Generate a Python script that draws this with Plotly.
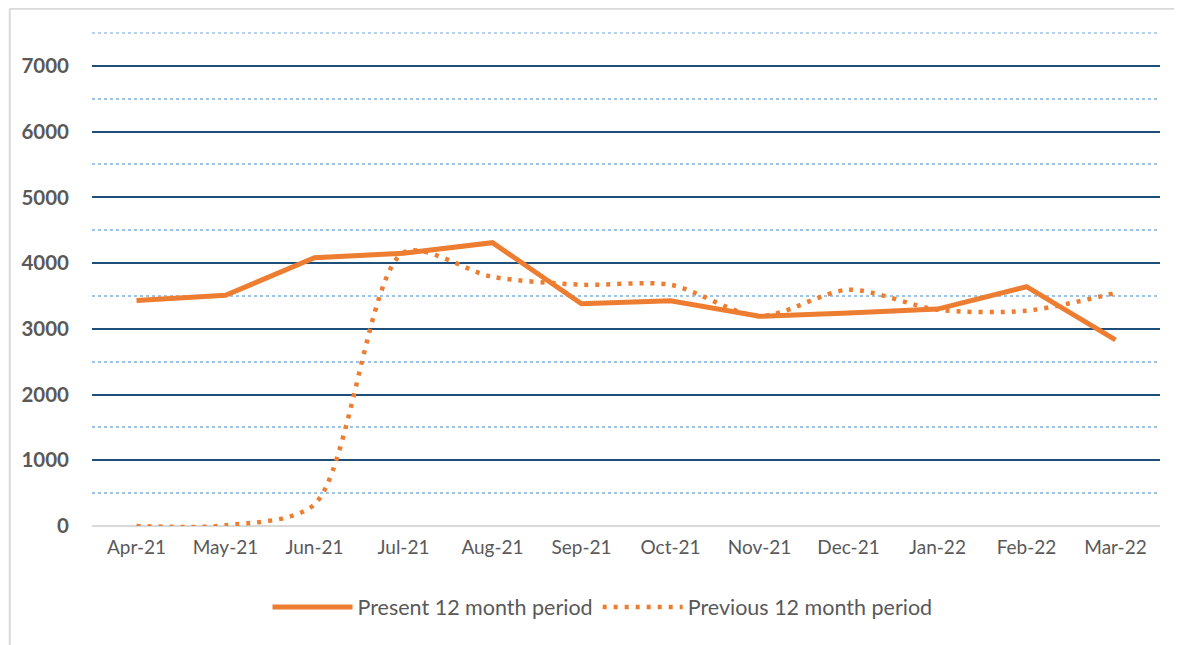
import plotly.graph_objects as go

months = ["Apr-21", "May-21", "Jun-21", "Jul-21", "Aug-21", "Sep-21",
          "Oct-21", "Nov-21", "Dec-21", "Jan-22", "Feb-22", "Mar-22"]
present = [3430, 3510, 4080, 4150, 4310, 3380, 3425, 3190, 3240, 3300, 3640, 2830]
previous = [0, 10, 330, 4160, 3790, 3670, 3670, 3190, 3595, 3290, 3275, 3545]
y_top = 7500

ORANGE = "#ED7D31"
GREY = "#595959"
MINOR = "#9DC3E6"

fig = go.Figure()

fig.add_trace(go.Scatter(
    x=months,
    y=present,
    mode="lines",
    name="Present 12 month period",
    line=dict(color=ORANGE, width=5)
))

fig.add_trace(go.Scatter(
    x=months,
    y=previous,
    mode="lines",
    name="Previous 12 month period",
    line=dict(color=ORANGE, width=4.5, dash="4px,7px", shape="spline", smoothing=0.8)
))

# the page body adds an 8px offset, margins are adjusted for it
fig.update_layout(
    width=1182,
    height=645,
    margin=dict(l=84, r=30, t=24, b=127),
    paper_bgcolor="white",
    plot_bgcolor="white",
    font=dict(family="Lato", size=19, color=GREY),
    showlegend=True,
    legend=dict(
        orientation="h",
        x=0.478,
        xanchor="center",
        y=-0.164,
        yanchor="middle",
        font=dict(size=21.5, color=GREY),
        itemwidth=80
    ),
    xaxis=dict(
        type="category",
        range=[-0.5, 11.5],
        showgrid=False,
        showline=False,
        ticks="",
        tickfont=dict(size=19, color=GREY),
        ticklabelstandoff=8
    ),
    yaxis=dict(
        range=[0, 7515],
        dtick=1000,
        tick0=0,
        showgrid=True,
        gridcolor="#1F4E79",
        gridwidth=2,
        zeroline=True,
        zerolinecolor="#D9D9D9",
        zerolinewidth=2,
        showline=False,
        ticks="",
        tickformat="d",
        tickfont=dict(size=20.5, color=GREY, family="Lato", weight="bold"),
        ticklabelstandoff=22,
        minor=dict(
            dtick=500,
            showgrid=True,
            gridcolor=MINOR,
            griddash="dot",
            gridwidth=1.5
        )
    ),
    shapes=[
        # top minor gridline, plotly drops it past the last major tick
        dict(type="line", xref="paper", yref="y", x0=0, x1=1, y0=y_top, y1=y_top,
             layer="below", line=dict(color=MINOR, width=1.5, dash="dot")),
        dict(type="line", xref="paper", yref="paper", x0=-0.077, x1=-0.077, y0=-0.3, y1=1.047,
             line=dict(color="#D9D9D9", width=2)),
        dict(type="line", xref="paper", yref="paper", x0=-0.077, x1=1.05, y0=1.047, y1=1.047,
             line=dict(color="#D9D9D9", width=2)),
    ]
)

fig.write_html("out.html")
